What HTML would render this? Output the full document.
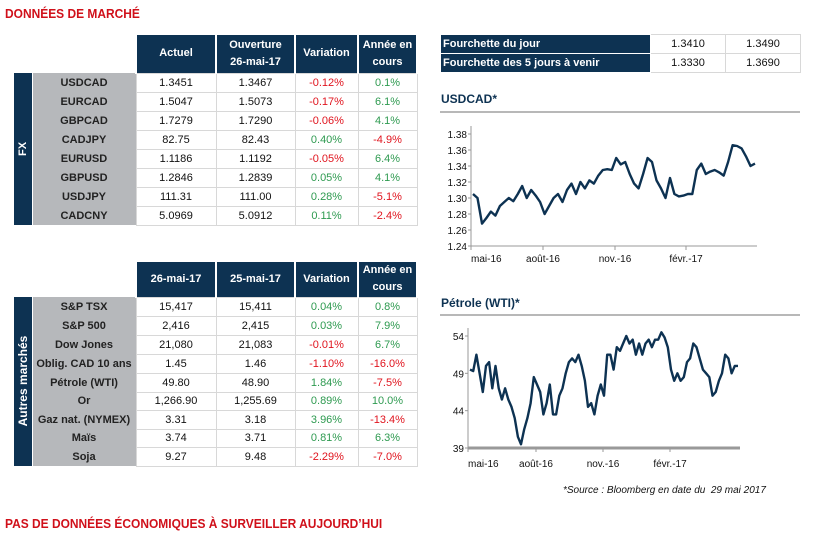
<!DOCTYPE html>
<html><head><meta charset="utf-8">
<style>
*{margin:0;padding:0;box-sizing:border-box}
body{width:813px;height:549px;background:#fff;position:relative;font-family:"Liberation Sans",sans-serif;overflow:hidden}
.title{position:absolute;color:#d0101a;font-weight:bold;font-size:13px;transform:scaleX(0.92);transform-origin:left}
table{position:absolute;border-collapse:collapse;table-layout:fixed;font-size:11px}
td,th{text-align:center;padding:0;overflow:hidden;white-space:nowrap}
th{background:#0d3252;color:#fff;font-weight:bold;border-left:2px solid #fff;border-right:2px solid #fff;line-height:17px}
td{border:1px solid #d8d8d8;color:#111}
td.lab{background:#b6b8bb;font-weight:bold;color:#222;border:none}
td.side{background:#0d3252;border:none;border-right:1px solid #fff}
.vlab{position:absolute;color:#fff;font-weight:bold;font-size:11px;white-space:nowrap;transform:translate(-50%,-50%) rotate(-90deg)}
.r{color:#e0141e}.g{color:#2e9a50}
.rt td{border:1px solid #d8d8d8}
.rt td.h{background:#0d3252;color:#fff;font-weight:bold;text-align:left;padding-left:2px;border:1px solid #fff}
.ct{position:absolute;font-weight:bold;font-size:12px;color:#0d3252}
.rule{position:absolute;height:2px;background:#b8b8b8}
</style></head><body>
<div class="title" style="left:5px;top:6px">DONNÉES DE MARCHÉ</div>

<table style="left:14px;top:35px;width:403px">
<colgroup><col style="width:18px"><col style="width:104px"><col style="width:80px"><col style="width:79px"><col style="width:63px"><col style="width:59px"></colgroup>
<tr style="height:38px"><td colspan="2" style="border:none"></td><th>Actuel</th><th>Ouverture<br>26-mai-17</th><th>Variation</th><th>Année en<br>cours</th></tr>
<tr style="height:19px"><td class="side" rowspan="8"></td><td class="lab">USDCAD</td><td>1.3451</td><td>1.3467</td><td class="r">-0.12%</td><td class="g">0.1%</td></tr>
<tr style="height:19px"><td class="lab">EURCAD</td><td>1.5047</td><td>1.5073</td><td class="r">-0.17%</td><td class="g">6.1%</td></tr>
<tr style="height:19px"><td class="lab">GBPCAD</td><td>1.7279</td><td>1.7290</td><td class="r">-0.06%</td><td class="g">4.1%</td></tr>
<tr style="height:19px"><td class="lab">CADJPY</td><td>82.75</td><td>82.43</td><td class="g">0.40%</td><td class="r">-4.9%</td></tr>
<tr style="height:19px"><td class="lab">EURUSD</td><td>1.1186</td><td>1.1192</td><td class="r">-0.05%</td><td class="g">6.4%</td></tr>
<tr style="height:19px"><td class="lab">GBPUSD</td><td>1.2846</td><td>1.2839</td><td class="g">0.05%</td><td class="g">4.1%</td></tr>
<tr style="height:19px"><td class="lab">USDJPY</td><td>111.31</td><td>111.00</td><td class="g">0.28%</td><td class="r">-5.1%</td></tr>
<tr style="height:19px"><td class="lab">CADCNY</td><td>5.0969</td><td>5.0912</td><td class="g">0.11%</td><td class="r">-2.4%</td></tr>
</table>
<div class="vlab" style="left:23px;top:149px">FX</div>

<table style="left:14px;top:262px;width:403px">
<colgroup><col style="width:18px"><col style="width:104px"><col style="width:80px"><col style="width:79px"><col style="width:63px"><col style="width:59px"></colgroup>
<tr style="height:35px"><td colspan="2" style="border:none"></td><th>26-mai-17</th><th>25-mai-17</th><th>Variation</th><th>Année en<br>cours</th></tr>
<tr style="height:19px"><td class="side" rowspan="9"></td><td class="lab">S&amp;P TSX</td><td>15,417</td><td>15,411</td><td class="g">0.04%</td><td class="g">0.8%</td></tr>
<tr style="height:19px"><td class="lab">S&amp;P 500</td><td>2,416</td><td>2,415</td><td class="g">0.03%</td><td class="g">7.9%</td></tr>
<tr style="height:19px"><td class="lab">Dow Jones</td><td>21,080</td><td>21,083</td><td class="r">-0.01%</td><td class="g">6.7%</td></tr>
<tr style="height:19px"><td class="lab">Oblig. CAD 10 ans</td><td>1.45</td><td>1.46</td><td class="r">-1.10%</td><td class="r">-16.0%</td></tr>
<tr style="height:19px"><td class="lab">Pétrole (WTI)</td><td>49.80</td><td>48.90</td><td class="g">1.84%</td><td class="r">-7.5%</td></tr>
<tr style="height:18px"><td class="lab">Or</td><td>1,266.90</td><td>1,255.69</td><td class="g">0.89%</td><td class="g">10.0%</td></tr>
<tr style="height:19px"><td class="lab">Gaz nat. (NYMEX)</td><td>3.31</td><td>3.18</td><td class="g">3.96%</td><td class="r">-13.4%</td></tr>
<tr style="height:18px"><td class="lab">Maïs</td><td>3.74</td><td>3.71</td><td class="g">0.81%</td><td class="g">6.3%</td></tr>
<tr style="height:19px"><td class="lab">Soja</td><td>9.27</td><td>9.48</td><td class="r">-2.29%</td><td class="r">-7.0%</td></tr>
</table>
<div class="vlab" style="left:23px;top:381px;font-size:12px">Autres marchés</div>

<table class="rt" style="left:440px;top:34px;width:360px">
<colgroup><col style="width:210px"><col style="width:75px"><col style="width:75px"></colgroup>
<tr style="height:19px"><td class="h">Fourchette du jour</td><td>1.3410</td><td>1.3490</td></tr>
<tr style="height:19px"><td class="h">Fourchette des 5 jours à venir</td><td>1.3330</td><td>1.3690</td></tr>
</table>

<div class="ct" style="left:441px;top:92px">USDCAD*</div>
<div class="rule" style="left:440px;top:111px;width:360px"></div>
<div class="ct" style="left:441px;top:296px">Pétrole (WTI)*</div>
<div class="rule" style="left:440px;top:314px;width:360px"></div>

<svg id="chart" width="813" height="549" style="position:absolute;left:0;top:0" font-family="Liberation Sans, sans-serif" font-size="10"></svg>

<div style="position:absolute;left:563px;top:485px;font-size:10px;font-style:italic;color:#111">*Source : Bloomberg en date du &nbsp;29 mai 2017</div>
<div class="title" style="left:5px;top:516px">PAS DE DONNÉES ÉCONOMIQUES À SURVEILLER AUJOURD’HUI</div>

<script>
const usdTicks=[1.24,1.26,1.28,1.30,1.32,1.34,1.36,1.38];
const monthLabels=["mai-16","août-16","nov.-16","févr.-17"];
const usdValues=[1.305,1.300,1.268,1.275,1.283,1.278,1.290,1.295,1.300,1.296,1.305,1.315,1.300,1.310,1.303,1.295,1.280,1.290,1.300,1.305,1.295,1.310,1.318,1.305,1.320,1.312,1.322,1.318,1.328,1.335,1.336,1.335,1.350,1.342,1.345,1.330,1.318,1.312,1.330,1.350,1.345,1.322,1.312,1.300,1.325,1.305,1.302,1.303,1.305,1.305,1.335,1.343,1.330,1.333,1.335,1.332,1.328,1.345,1.366,1.365,1.362,1.352,1.340,1.343];
const oilTicks=[39,44,49,54];
const oilValues=[49.5,49.3,51.5,49,46.5,50,50.5,47,50,47,45.5,47,45.5,44.5,43,40.5,39.5,41.5,43,45,48.5,47.5,46.5,43.5,45,47.5,43.5,43.5,46,47,49,50.5,51,50.5,51.5,50,48,44.5,45,43.5,46,47.5,46,51.5,51.5,49.5,52.5,52,53,54,53,53.5,51.5,53,51.5,53,53.5,52.5,53.5,53.5,54.5,53.8,52.5,49.5,48,49,48,48.5,50.5,51,53,52.5,51,49.5,49,48.5,46,46.5,48,49,51.5,51,49,50,50];
const svg=document.getElementById('chart');
const NS="http://www.w3.org/2000/svg";
function mk(t,a){const e=document.createElementNS(NS,t);for(const k in a)e.setAttribute(k,a[k]);svg.appendChild(e);return e;}
function drawChart(cfg){
  const {x0,x1,y0,y1,vmin,vmax,ticks,vals,tickX,lblY,fmt,name}=cfg;
  const ys=v=>y0-(v-vmin)/(vmax-vmin)*(y0-y1);
  const xs=i=>x0+2+i/(vals.length-1)*(x1-x0-4);
  let e=mk('line',{x1:x0,y1:y1-8,x2:x0,y2:y0,stroke:'#999','stroke-width':1});
  
  
  e=mk('line',{x1:x0,y1:y0,x2:x1,y2:y0,stroke:'#999','stroke-width':cfg.axW||1});
  
  
  ticks.forEach(t=>{
    const tx=mk('text',{x:x0-4,y:ys(t)+4,'text-anchor':'end',fill:'#111'});tx.textContent=fmt(t);
    
    
    mk('line',{x1:x0-3,y1:ys(t),x2:x0,y2:ys(t),stroke:'#999'});
  });
  monthLabels.forEach((m,i)=>{
    const px=tickX[i];
    mk('line',{x1:px,y1:y0,x2:px,y2:y0+4,stroke:'#999'});
    const tx=mk('text',{x:px,y:lblY,'text-anchor':i==0?'start':'middle',fill:'#111'});tx.textContent=m;
    
    
  });
  const d=vals.map((v,i)=>(i?'L':'M')+xs(i).toFixed(1)+','+ys(v).toFixed(1)).join('');
  const p=mk('path',{d:d,fill:'none',stroke:'#0d3252','stroke-width':2.4,'stroke-linejoin':'round'});
  
  
}
drawChart({name:'usdcad',x0:471,x1:757,y0:246,y1:134,vmin:1.24,vmax:1.38,ticks:usdTicks,vals:usdValues,tickX:[471,543,615,686],lblY:262,fmt:t=>t.toFixed(2)});
drawChart({name:'oil',x0:468,x1:740,y0:448,y1:336,vmin:39,vmax:54,ticks:oilTicks,vals:oilValues,tickX:[468,536,603,670],lblY:467,fmt:t=>t,axW:3});
</script>
</body></html>
